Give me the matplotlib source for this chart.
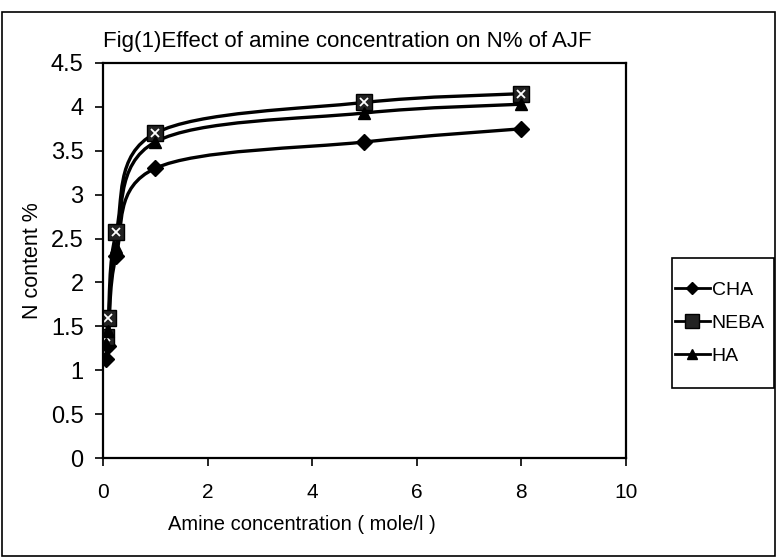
import numpy as np
import matplotlib
matplotlib.use("Agg")
import matplotlib.pyplot as plt
from matplotlib.path import Path
from matplotlib.patches import PathPatch, Rectangle

plt.rcParams["font.family"] = ["Liberation Sans", "DejaVu Sans"]

# Data
conc = [0.05, 0.1, 0.25, 1.0, 5.0, 8.0]
cha = [1.13, 1.28, 2.3, 3.3, 3.6, 3.75]
neba = [1.38, 1.6, 2.57, 3.7, 4.05, 4.15]
ha = [1.3, 1.45, 2.4, 3.6, 3.93, 4.03]


# Excel-like smoothed line: cubic bezier through the points
def smooth_path(ax, xs, ys, tension=0.5):
    pts = ax.transData.transform(np.column_stack([xs, ys]))
    verts = [pts[0]]
    codes = [Path.MOVETO]
    n = len(pts)
    for i in range(n - 1):
        p0 = pts[i - 1] if i > 0 else pts[i]
        p1 = pts[i]
        p2 = pts[i + 1]
        p3 = pts[i + 2] if i + 2 < n else pts[i + 1]
        c1 = p1 + (p2 - p0) * tension / 3
        c2 = p2 - (p3 - p1) * tension / 3
        verts += [c1, c2, p2]
        codes += [Path.CURVE4] * 3
    inv = ax.transData.inverted()
    return Path(inv.transform(np.array(verts)), codes)


fig = plt.figure(figsize=(7.77, 5.58), dpi=100)
# outer chart border
fig.patches.append(Rectangle((0.003, 0.003), 0.994, 0.976, transform=fig.transFigure,
                             fill=False, edgecolor="black", linewidth=1.2))

ax = fig.add_axes([0.1326, 0.1792, 0.673, 0.708])
ax.set_xlim(0, 10)
ax.set_ylim(0, 4.5)
ax.set_xticks([0, 2, 4, 6, 8, 10])
ax.set_yticks(np.arange(0, 4.51, 0.5))
ax.set_yticklabels(["0", "0.5", "1", "1.5", "2", "2.5", "3", "3.5", "4", "4.5"])
ax.tick_params(length=6, width=1.2, direction="out")
ax.tick_params(axis="x", labelsize=15, pad=12)
ax.tick_params(axis="y", labelsize=17, pad=8)
for s in ax.spines.values():
    s.set_linewidth(1.6)

series = [
    ("CHA", cha, dict(marker="D", markersize=8, color="black")),
    ("NEBA", neba, dict(marker="s", markersize=12, color="black",
                        markerfacecolor="#222222")),
    ("HA", ha, dict(marker="^", markersize=9, color="black")),
]
for name, vals, style in series:
    ax.add_patch(PathPatch(smooth_path(ax, conc, vals), fill=False,
                           edgecolor="black", linewidth=2.4))
    ax.plot(conc, vals, linestyle="none", **style)
    if name == "NEBA":
        ax.plot(conc, vals, linestyle="none", marker="x", markersize=6,
                color="white", markeredgewidth=1.3)

legend_handles = []
for name, vals, style in series:
    small = dict(style)
    small["markersize"] = style["markersize"] * 0.8
    lh, = ax.plot([], [], linestyle="-", linewidth=2, label=name, **small)
    legend_handles.append(lh)

ax.set_xlabel("Amine concentration ( mole/l )", fontsize=14.5, labelpad=10)
ax.xaxis.set_label_coords(0.38, -0.145)
ax.set_ylabel("N content %", fontsize=15.5, labelpad=6)
fig.text(0.447, 0.926, "Fig(1)Effect of amine concentration on N% of AJF",
         ha="center", va="center", fontsize=16)

# legend box drawn separately (taller than the entries need)
fig.patches.append(Rectangle((0.865, 0.305), 0.131, 0.233, transform=fig.transFigure,
                             fill=False, edgecolor="black", linewidth=1.2))
leg = fig.legend(handles=legend_handles, loc="center left",
                 bbox_to_anchor=(0.851, 0.421), fontsize=14, frameon=False,
                 handlelength=1.8, handletextpad=0.1, borderpad=0.2,
                 labelspacing=0.8)

fig.savefig("out.png", dpi=100)
